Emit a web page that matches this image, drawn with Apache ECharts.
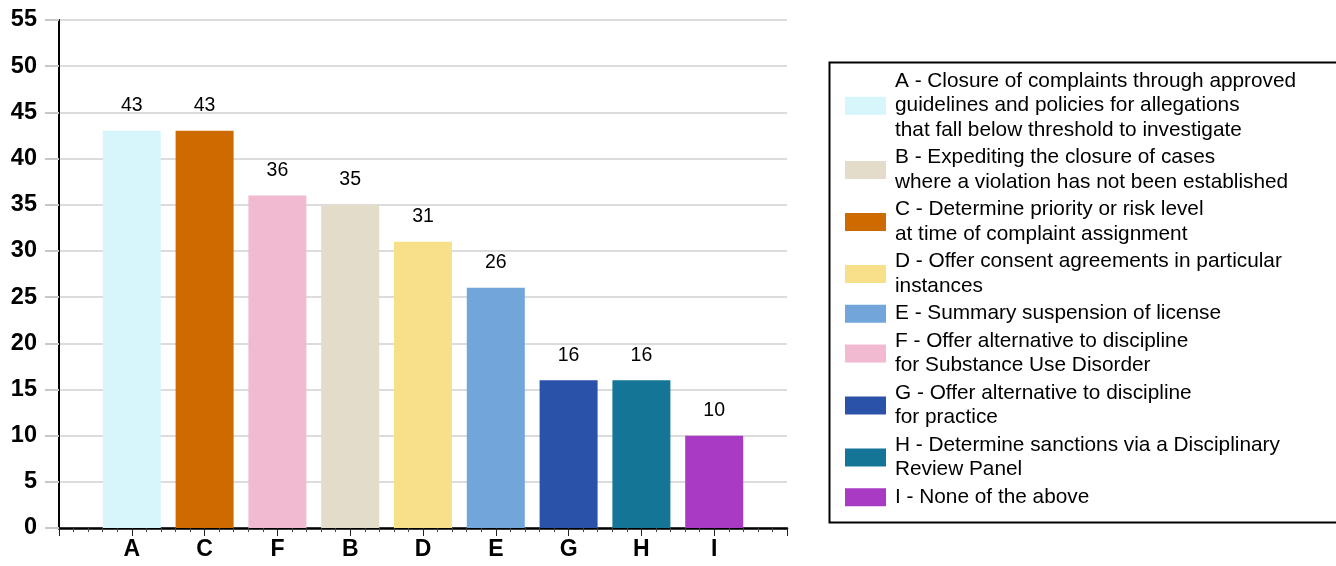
<!DOCTYPE html>
<html>
<head>
<meta charset="utf-8">
<script src="https://cdn.jsdelivr.net/npm/echarts@6/dist/echarts.min.js"></script>
<style>html,body{margin:0;padding:0;background:#fff;}#c{width:1336px;height:566px;}</style>
</head>
<body>
<div id="c"></div>
<script>
// Bars in plotted order
const categories = ['A', 'C', 'F', 'B', 'D', 'E', 'G', 'H', 'I'];
const values = [43, 43, 36, 35, 31, 26, 16, 16, 10];
// Legend (alphabetical)
const legendLetters = ['A', 'B', 'C', 'D', 'E', 'F', 'G', 'H', 'I'];
const legendTexts = [
  'A - Closure of complaints through approved\nguidelines and policies for allegations\nthat fall below threshold to investigate',
  'B - Expediting the closure of cases\nwhere a violation has not been established',
  'C - Determine priority or risk level\nat time of complaint assignment',
  'D - Offer consent agreements in particular\ninstances',
  'E - Summary suspension of license',
  'F - Offer alternative to discipline\nfor Substance Use Disorder',
  'G - Offer alternative to discipline\nfor practice',
  'H - Determine sanctions via a Disciplinary\nReview Panel',
  'I - None of the above'
];
const colors = {
  A: '#D6F6FC', B: '#E3DCCA', C: '#CD6A00', D: '#F8DF8A', E: '#72A6DB',
  F: '#F2BAD0', G: '#2A52A8', H: '#157596', I: '#A93AC4'
};
const yTicks = [0, 5, 10, 15, 20, 25, 30, 35, 40, 45, 50, 55];

const FONT = '"Liberation Sans", Arial, sans-serif';
const chart = echarts.init(document.getElementById('c'), null, {renderer: 'canvas'});

const series = categories.map((letter, i) => ({
  type: 'bar',
  name: legendTexts[legendLetters.indexOf(letter)],
  stack: 'all',
  barWidth: 58,
  itemStyle: {color: colors[letter]},
  label: {
    show: true, position: 'top', distance: 15,
    color: '#000', fontFamily: FONT, fontSize: 19.5
  },
  data: [[i, values[i]]],
  silent: true,
  animation: false
}));

chart.setOption({
  animation: false,
  grid: {left: 59, right: 549, top: 20, bottom: 38, containLabel: false},
  xAxis: {
    type: 'value', min: -1, max: 9, interval: 1,
    axisLine: {show: true, onZero: false, lineStyle: {color: '#000', width: 2.5}},
    axisTick: {show: true, length: 8, lineStyle: {color: '#222', width: 1}},
    minorTick: {show: true, splitNumber: 5, length: 4, lineStyle: {color: '#444', width: 1}},
    splitLine: {show: false},
    axisLabel: {
      margin: 10, color: '#000', fontFamily: FONT, fontSize: 23, fontWeight: 'bold',
      formatter: v => (v >= 0 && v < categories.length) ? categories[v] : '',
      showMinLabel: true, showMaxLabel: true
    }
  },
  yAxis: {
    type: 'value', min: yTicks[0], max: yTicks[yTicks.length - 1], interval: 5,
    axisLine: {show: true, onZero: false, lineStyle: {color: '#000', width: 2}},
    axisTick: {show: true, length: 14, lineStyle: {color: '#c8c8c8', width: 2}},
    splitLine: {show: true, lineStyle: {color: '#dcdcdc', width: 2}},
    axisLabel: {margin: 22, color: '#000', fontFamily: FONT, fontSize: 23.5, fontWeight: 'bold'}
  },
  legend: {
    orient: 'vertical', left: 845, top: 69, padding: 0, itemGap: 3,
    itemWidth: 41, itemHeight: 18, icon: 'rect',
    selectedMode: false,
    data: legendTexts.map((t, i) => ({name: t, itemStyle: {color: colors[legendLetters[i]]}})),
    textStyle: {fontFamily: FONT, fontSize: 20.8, lineHeight: 24.5, color: '#000', padding: [0, 0, 0, 4]}
  },
  graphic: [{
    type: 'rect', left: 827, top: 60, silent: true,
    shape: {width: 520, height: 460},
    style: {fill: 'none', stroke: '#000', lineWidth: 2}
  }],
  series: series
});
</script>
</body>
</html>
